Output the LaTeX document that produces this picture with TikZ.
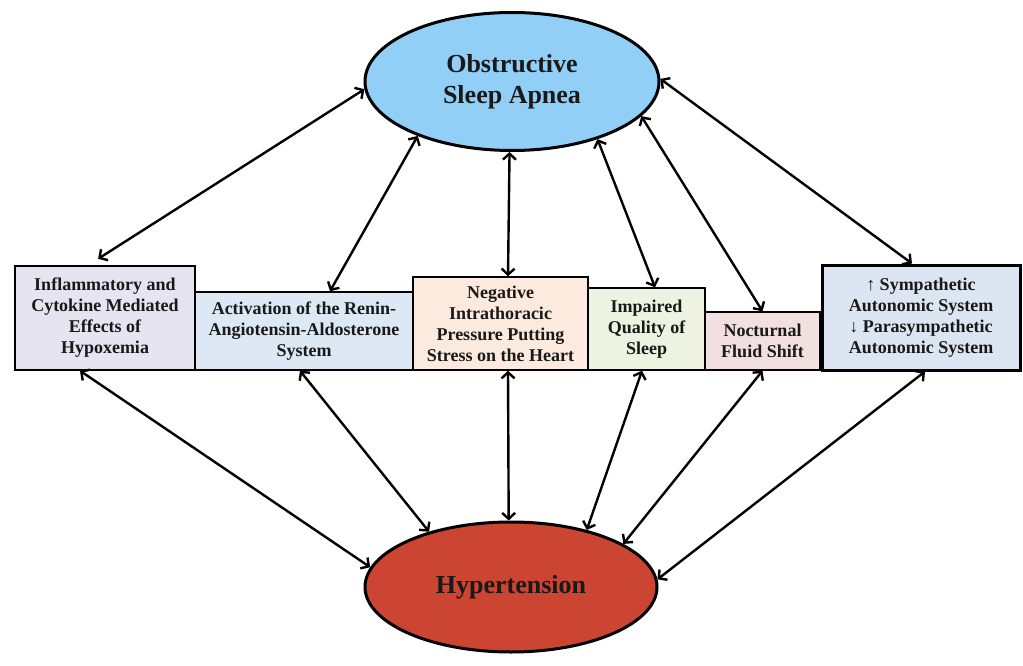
\documentclass[tikz,border=0pt]{standalone}
\usepackage{fontspec}
\setmainfont{Liberation Serif}
\usetikzlibrary{shapes.geometric,arrows.meta}

\definecolor{osablue}{RGB}{145,207,247}
\definecolor{htnred}{RGB}{204,68,50}
\definecolor{inflam}{RGB}{230,228,240}
\definecolor{raas}{RGB}{220,232,243}
\definecolor{press}{RGB}{252,234,222}
\definecolor{sleepq}{RGB}{238,242,224}
\definecolor{fluid}{RGB}{242,224,224}
\definecolor{auto}{RGB}{220,230,242}

\begin{document}
\begin{tikzpicture}[x=1pt,y=-1pt,
  cause/.style={rectangle,draw,line width=1.5pt,align=center,inner sep=2pt,
    text=black!90,font=\bfseries\fontsize{18}{21}\selectfont},
  state/.style={ellipse,draw,line width=3pt,inner sep=0pt,align=center,
    text=black!90,font=\bfseries\fontsize{26}{31}\selectfont},
  link/.style={<->,line width=2.4pt,>={Straight Barb[length=6pt,width=13pt]}}]
\useasboundingbox (0,0) rectangle (1023,666);

\node [state,minimum width=294pt,minimum height=138pt,fill=osablue] (osa) at (512,81.5) {Obstructive\\Sleep Apnea};
\node [state,minimum width=292pt,minimum height=130pt,fill=htnred] (htn) at (511,587) {Hypertension};

\node [cause,minimum width=180pt,minimum height=104pt,fill=inflam] (b1) at (105,318)
  {Inflammatory and\\Cytokine Mediated\\Effects of\\Hypoxemia};
\node [cause,minimum width=218pt,minimum height=78pt,fill=raas] (b2) at (304,331)
  {Activation of the Renin-\\Angiotensin-Aldosterone\\System};
\node [cause,minimum width=175pt,minimum height=93pt,fill=press] (b3) at (500.5,323.5)
  {Negative\\Intrathoracic\\Pressure Putting\\Stress on the Heart};
\node [cause,minimum width=117pt,minimum height=82pt,fill=sleepq] (b4) at (646.5,329)
  {Impaired\\Quality of\\Sleep};
\node [cause,minimum width=115pt,minimum height=58pt,fill=fluid] (b5) at (762.5,341)
  {Nocturnal\\Fluid Shift};
\node [cause,line width=3pt,minimum width=198pt,minimum height=105pt,fill=auto] (b6) at (921,317.5)
  {↑ Sympathetic\\Autonomic System\\↓ Parasympathetic\\Autonomic System};

\draw [link,shorten <=12pt] ([xshift=-17pt]b1.north) -- (osa.183);
\draw [link] ([xshift=26pt]b2.north) -- (osa.210);
\draw [link] ([xshift=7.5pt]b3.north) -- (osa.268);
\draw [link] ([xshift=8.5pt]b4.north) -- (osa.326);
\draw [link] (b5.north) -- (osa.345);
\draw [link] ([xshift=-9pt]b6.north) -- (osa.1);

\draw [link] ([xshift=-25pt]b1.south) -- (htn.172);
\draw [link] ([xshift=-4pt]b2.south) -- (htn.146);
\draw [link] ([xshift=7.5pt]b3.south) -- (htn.92);
\draw [link] ([xshift=-4.5pt]b4.south) -- (htn.37);
\draw [link] (b5.south) -- (htn.21);
\draw [link] ([xshift=4pt]b6.south) -- (htn.3);
\end{tikzpicture}
\end{document}
